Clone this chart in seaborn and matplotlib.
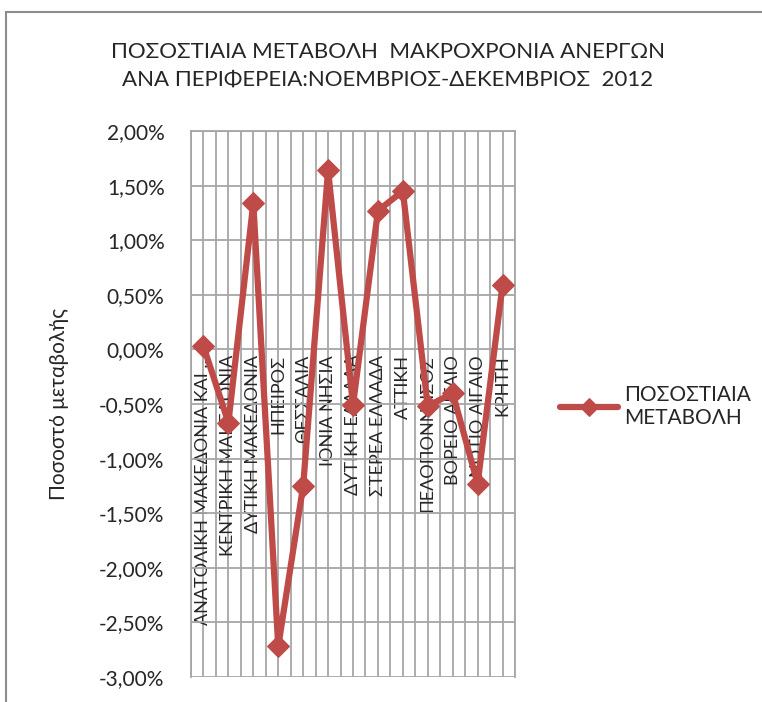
import numpy as np
import pandas as pd
import matplotlib.pyplot as plt
import matplotlib.ticker as mticker
from matplotlib.patches import Rectangle
import seaborn as sns

# Περιφέρειες και ποσοστιαία μεταβολή (%)
regions = ["ΑΝΑΤΟΛΙΚΗ ΜΑΚΕΔΟΝΙΑ ΚΑΙ ...", "ΚΕΝΤΡΙΚΗ ΜΑΚΕΔΟΝΙΑ", "ΔΥΤΙΚΗ ΜΑΚΕΔΟΝΙΑ",
           "ΗΠΕΙΡΟΣ", "ΘΕΣΣΑΛΙΑ", "ΙΟΝΙΑ ΝΗΣΙΑ", "ΔΥΤΙΚΗ ΕΛΛΑΔΑ", "ΣΤΕΡΕΑ ΕΛΛΑΔΑ",
           "ΑΤΤΙΚΗ", "ΠΕΛΟΠΟΝΝΗΣΟΣ", "ΒΟΡΕΙΟ ΑΙΓΑΙΟ", "ΝΟΤΙΟ ΑΙΓΑΙΟ", "ΚΡΗΤΗ"]
change = [0.03, -0.67, 1.34, -2.72, -1.25, 1.64, -0.51, 1.27, 1.45, -0.52, -0.40, -1.23, 0.59]
yticks = [2.0, 1.5, 1.0, 0.5, 0.0, -0.5, -1.0, -1.5, -2.0, -2.5, -3.0]

df = pd.DataFrame({"region": regions, "change": change})

sns.set_style("white")
plt.rcParams['font.family'] = ['Lato', 'DejaVu Sans']

red = "#BE4B48"
grid = "#A6A6A6"

fig = plt.figure(figsize=(7.62, 7.02), dpi=100)
ax = fig.add_axes([191/762, 1-677/702, (515-191)/762, (677-131)/702])

sns.lineplot(data=df, x="region", y="change", color=red, linewidth=4.5,
             marker="D", markersize=11, markeredgecolor=red, sort=False,
             label="ΠΟΣΟΣΤΙΑΙΑ\nΜΕΤΑΒΟΛΗ", ax=ax, zorder=3)

ax.set_xlim(-0.5, len(regions) - 0.5)
ax.set_ylim(-3.0, 2.0)
ax.set_yticks(yticks)
ax.yaxis.set_major_formatter(mticker.FuncFormatter(lambda v, p: f"{v:.2f}%".replace(".", ",")))

# πλέγμα: κύριες γραμμές στα κέντρα, δευτερεύουσες στα όρια
ax.set_xticks(np.arange(len(regions)))
ax.set_xticks(np.arange(-0.5, len(regions)), minor=True)
ax.grid(True, which="both", axis="x", color=grid, linewidth=1.3)
ax.grid(True, which="major", axis="y", color=grid, linewidth=1.3)
ax.set_axisbelow(True)

# άξονας κατηγοριών στο 0
ax.spines["bottom"].set_position(("data", 0))
ax.spines["bottom"].set_visible(False)
for s in ["left", "top", "right"]:
    ax.spines[s].set_color(grid)
    ax.spines[s].set_linewidth(1.3)
ax.set_xticklabels(regions, rotation=90, fontsize=13, va="top", ha="center")
ax.tick_params(axis="x", which="both", length=0, pad=4)
ax.tick_params(axis="y", length=0, pad=19, labelsize=15)

ax.set_xlabel("")
ax.set_ylabel("Ποσοστό μεταβολής", fontsize=15, labelpad=22)

leg = ax.legend(loc="center left", bbox_to_anchor=(1.08, 0.495), frameon=False,
                fontsize=15, handlelength=2.8, handletextpad=0.3, markerscale=0.85)

fig.text(388/762, 1-66/702, "ΠΟΣΟΣΤΙΑΙΑ ΜΕΤΑΒΟΛΗ  ΜΑΚΡΟΧΡΟΝΙΑ ΑΝΕΡΓΩΝ\nΑΝΑ ΠΕΡΙΦΕΡΕΙΑ:ΝΟΕΜΒΡΙΟΣ-ΔΕΚΕΜΒΡΙΟΣ  2012",
         ha="center", va="center", fontsize=16, linespacing=1.45)

fig.patches.append(Rectangle((6/762, -0.1), 1.2, 1.1 - 12/702, transform=fig.transFigure,
                             fill=False, edgecolor="#8C8C8C", linewidth=1.5))

plt.savefig("out.png", dpi=100, facecolor="white")
